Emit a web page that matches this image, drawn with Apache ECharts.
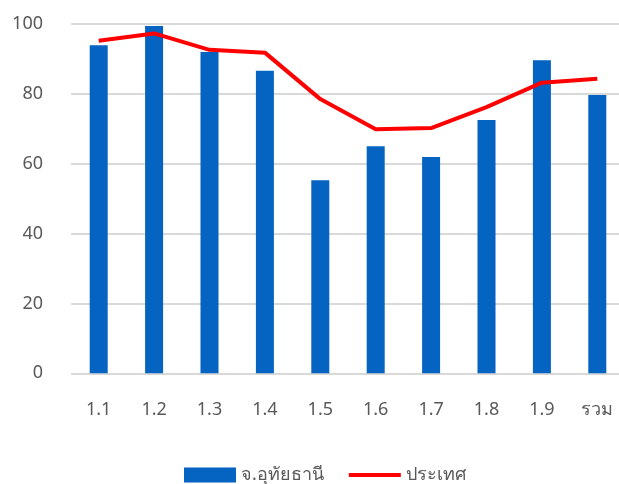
<!DOCTYPE html>
<html><head><meta charset="utf-8">
<script src="https://cdn.jsdelivr.net/npm/echarts@6/dist/echarts.min.js"></script>
<style>html,body{margin:0;padding:0;background:#fff}#c{width:619px;height:484px}</style>
</head><body><div id="c"></div>
<script>
const categories = ['1.1','1.2','1.3','1.4','1.5','1.6','1.7','1.8','1.9','รวม'];
const provinceName = 'จ.อุทัยธานี';
const countryName = 'ประเทศ';
const provinceValues = [93.9, 99.4, 92.0, 86.6, 55.3, 65.0, 61.9, 72.5, 89.6, 79.7];
const countryValues = [95.2, 97.3, 92.6, 91.8, 78.5, 69.9, 70.2, 76.2, 83.2, 84.3];
const yTicks = [0, 20, 40, 60, 80, 100];

const font = '"Noto Sans", "DejaVu Sans", sans-serif';
const chart = echarts.init(document.getElementById('c'));
chart.setOption({
  animation: false,
  textStyle: {fontFamily: font},
  grid: {left: 71, width: 554, top: 24, height: 349.3, outerBoundsMode: 'none', containLabel: false},
  legend: {
    top: 461, left: 179,
    itemWidth: 52, itemHeight: 15, itemGap: 25,
    textStyle: {fontSize: 18, color: '#595959', fontFamily: font},
    data: [
      {name: provinceName, icon: 'rect'},
      {name: countryName, icon: 'path://M0,0H52V4H0Z'}
    ]
  },
  xAxis: {
    type: 'category', data: categories,
    axisLine: {show: false}, axisTick: {show: false},
    axisLabel: {fontSize: 18, color: '#595959', margin: 28}
  },
  yAxis: {
    type: 'value', min: yTicks[0], max: yTicks[yTicks.length - 1], interval: 20,
    axisLine: {show: false}, axisTick: {show: false},
    axisLabel: {fontSize: 18, color: '#595959', margin: 28},
    splitLine: {lineStyle: {color: '#D9D9D9', width: 2}}
  },
  series: [
    {name: provinceName, type: 'bar', data: provinceValues, barWidth: 18,
     itemStyle: {color: '#0563C1'}},
    {name: countryName, type: 'line', data: countryValues, symbol: 'none',
     lineStyle: {color: '#FF0000', width: 4}, itemStyle: {color: '#FF0000'}}
  ]
});
</script></body></html>
